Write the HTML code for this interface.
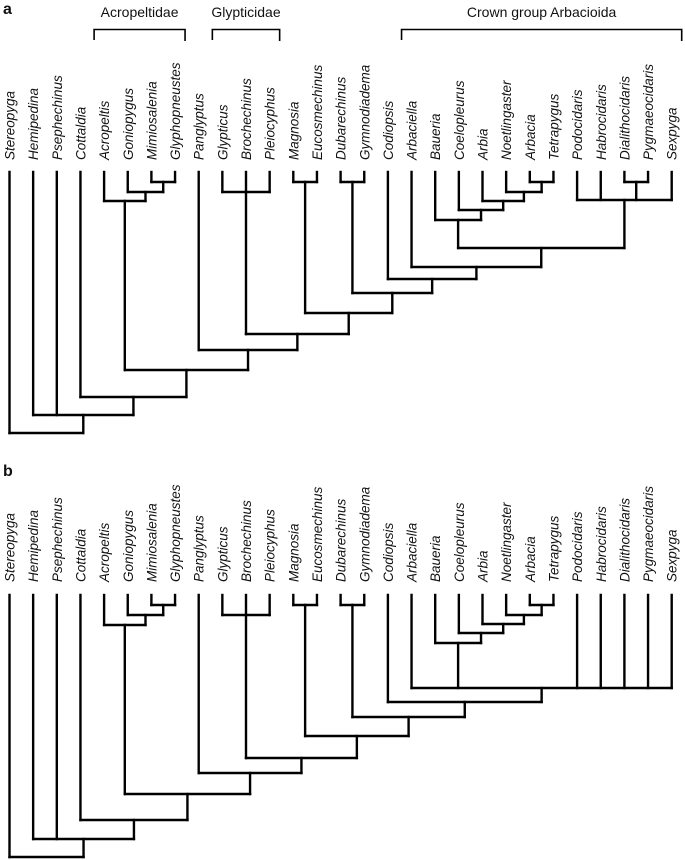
<!DOCTYPE html>
<html><head><meta charset="utf-8"><style>
html,body{margin:0;padding:0;background:#fff;}
svg{display:block;}
text{font-family:"Liberation Sans",sans-serif;fill:#111;}
</style></head><body>
<svg id="fig" width="685" height="860" viewBox="0 0 685 860" xmlns="http://www.w3.org/2000/svg">
<text x="3" y="14" font-size="16" font-weight="bold">a</text>
<text x="3" y="476" font-size="16" font-weight="bold">b</text>
<g id="brackets"></g>
<g id="panelA"></g>
<g id="panelB"></g>
</svg>
<script>
const taxa = ["Stereopyga","Hemipedina","Psephechinus","Cottaldia","Acropeltis","Goniopygus","Mimiosalenia","Glyphopneustes","Panglyptus","Glypticus","Brochechinus","Pleiocyphus","Magnosia","Eucosmechinus","Dubarechinus","Gymnodiadema","Codiopsis","Arbaciella","Baueria","Coelopleurus","Arbia","Noetlingaster","Arbacia","Tetrapygus","Podocidaris","Habrocidaris","Dialithocidaris","Pygmaeocidaris","Sexpyga"];
// node = [depth, ...children]; leaves are taxon indices
const a_acro = [29, 4, [20, 5, [10, 6, 7]]];
const a_glyp = [20, 9, 10, 11];
const a_arb = [48, 18, [38, 19, [29, 20, [20, 21, [10, 22, 23]]]]];
const a_pod = [28, 24, 25, [10, 26, 27], 28];
const a_c0 = [76, a_arb, a_pod];
const a_c1 = [95, 17, a_c0];
const a_c2 = [107, 16, a_c1];
const a_c3 = [121, [10, 14, 15], a_c2];
const a_c4 = [141, [10, 12, 13], a_c3];
const a_c5 = [162, a_glyp, a_c4];
const a_c6 = [178, 8, a_c5];
const a_c7 = [198, a_acro, a_c6];
const a_c8 = [225, 3, a_c7];
const a_c9 = [243, 1, 2, a_c8];
const treeA = [261, 0, a_c9];

const b_acro = [30, 4, [20, 5, [10, 6, 7]]];
const b_glyp = [20, 9, 10, 11];
const b_arb = [48, 18, [38, 19, [29, 20, [20, 21, [10, 22, 23]]]]];
const b_c1 = [93, 17, b_arb, 24, 25, 26, 27, 28];
const b_c2 = [107, 16, b_c1];
const b_c3 = [122, [10, 14, 15], b_c2];
const b_c4 = [141, [10, 12, 13], b_c3];
const b_c5 = [163, b_glyp, b_c4];
const b_c6 = [178, 8, b_c5];
const b_c7 = [199, b_acro, b_c6];
const b_c8 = [225, 3, b_c7];
const b_c9 = [244, 1, 2, b_c8];
const treeB = [262, 0, b_c9];

const groupNames = ["Acropeltidae","Glypticidae","Crown group Arbacioida"];
const groupFirst = [4, 9, 17];
const groupLast = [7, 11, 28];

const NS = "http://www.w3.org/2000/svg";
function xOf(i){ return 9.5 + i * 23.65; }
function mk(tag, attrs, parent){
  const e = document.createElementNS(NS, tag);
  for (const k in attrs) e.setAttribute(k, attrs[k]);
  parent.appendChild(e);
  return e;
}
function line(g, x1, y1, x2, y2){
  const l = mk("line", {x1: x1, y1: y1, x2: x2, y2: y2, stroke: "#000", "stroke-width": 2.4, "stroke-linecap": "square"}, g);
  
  
}
function drawTree(g, tree, tipTop, labelEnd){
  taxa.forEach(function(t, i){
    const x = xOf(i) + 5;
    const tx = mk("text", {x: x, y: labelEnd, "font-size": 13.5, "font-style": "italic", "text-anchor": "start", transform: "rotate(-90 " + x + " " + labelEnd + ")"}, g);
    tx.textContent = t;
    
    
  });
  function rec(n){
    if (typeof n === "number") return {x: xOf(n), y: tipTop};
    const y = tipTop + n[0];
    const kids = n.slice(1).map(rec);
    const xs = kids.map(function(k){ return k.x; });
    const lo = Math.min.apply(null, xs), hi = Math.max.apply(null, xs);
    kids.forEach(function(k){ line(g, k.x, k.y, k.x, y); });
    line(g, lo, y, hi, y);
    return {x: (lo + hi) / 2, y: y};
  }
  rec(tree);
}
drawTree(document.getElementById("panelA"), treeA, 172, 160);
drawTree(document.getElementById("panelB"), treeB, 595, 582);

const bg = document.getElementById("brackets");
groupNames.forEach(function(nm, i){
  const x1 = xOf(groupFirst[i]) - 10, x2 = xOf(groupLast[i]) + 10;
  const p = mk("path", {d: "M" + x1 + " 40 V29.5 H" + x2 + " V41", fill: "none", stroke: "#000", "stroke-width": 1.6}, bg);
  
  
  const t = mk("text", {x: (x1 + x2) / 2, y: 17, "font-size": 14, "text-anchor": "middle"}, bg);
  t.textContent = nm;
  
  
});
</script>
</body></html>
